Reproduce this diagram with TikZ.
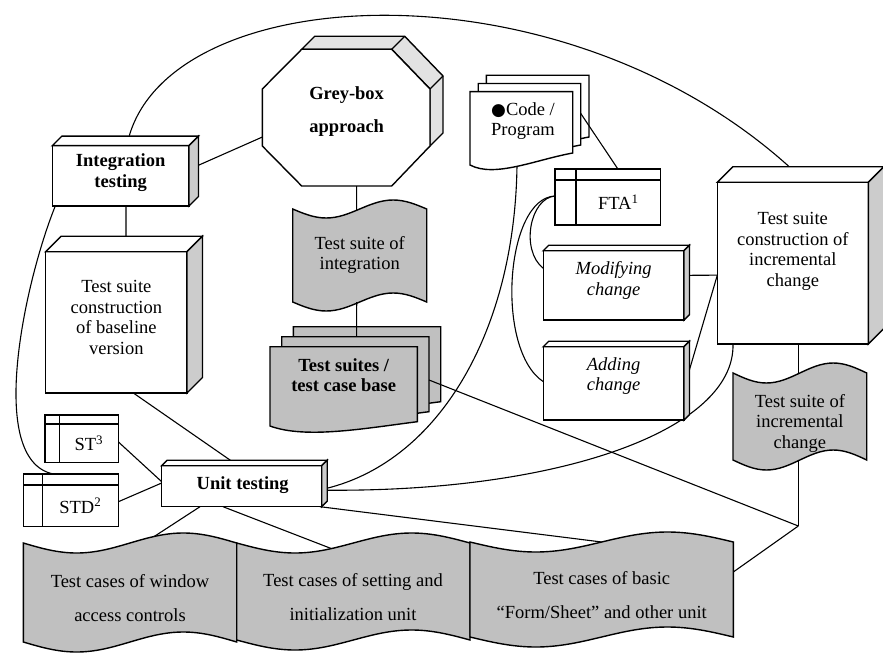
\documentclass[tikz,border=0pt]{standalone}
\usepackage{fontspec}
\setmainfont{Liberation Serif}
\newfontfamily\symfont{DejaVu Sans}
\usetikzlibrary{calc}
\pgfdeclarelayer{bg}
\pgfsetlayers{bg,main}

\definecolor{tapegray}{RGB}{192,192,192}
\definecolor{sidegray}{RGB}{204,204,204}
\definecolor{octgray}{RGB}{226,226,226}

\newcommand\lbl{\fontsize{18.5}{20.5}\selectfont}

\tikzset{
  outline/.style={draw=black, line width=1.4pt, line join=miter},
  conn/.style={draw=black, line width=1.1pt},
  frame/.style={rectangle, inner sep=0pt, outer sep=0pt, anchor=north west},
  txt/.style={align=center, inner sep=0pt, font=\lbl},
}

% top and right faces of a 3-D box drawn on a frame node
\newcommand\cubefaces[2]{%
  \draw[outline, fill=white] (#1.north west) -- ++(#2,-#2) -- ($(#1.north east)+(#2,-#2)$) -- (#1.north east) -- cycle;
  \draw[outline, fill=sidegray] (#1.north east) -- ($(#1.north east)+(#2,-#2)$) -- ($(#1.south east)+(#2,-#2)$) -- (#1.south east) -- cycle;}

% punched tape: x1, top, x2, bottom, wave amplitude
\newcommand\tapeshape[5]{%
  \draw[outline, fill=tapegray] (#1,#2) sin ({#1+(#3-#1)/4},{#2+#5}) cos ({#1+(#3-#1)/2},#2)
    sin ({#1+3*(#3-#1)/4},{#2-#5}) cos (#3,#2) -- (#3,#4)
    sin ({#1+3*(#3-#1)/4},{#4-#5}) cos ({#1+(#3-#1)/2},#4)
    sin ({#1+(#3-#1)/4},{#4+#5}) cos (#1,#4) -- cycle;}

% document sheet: x1, top, x2, bottom left, bottom right, fill
\newcommand\docshape[6]{%
  \draw[outline, fill=#6] (#1,#2) -- (#3,#2) -- (#3,#5)
    .. controls ({#1+0.63*(#3-#1)},{#5+7}) and ({#1+0.24*(#3-#1)},{#4+13}) .. (#1,#4) -- cycle;}

% internal storage box: node name, width of left strip, height of top strip
\newcommand\storebox[3]{%
  \draw[outline, fill=white] (#1.north west) rectangle (#1.south east);
  \draw[outline] ($(#1.north west)+(0,#3)$) -- ($(#1.north east)+(0,#3)$);
  \draw[outline] ($(#1.north west)+(#2,0)$) -- ($(#1.south west)+(#2,0)$);}

\begin{document}
\begin{tikzpicture}[x=1pt,y=-1pt]
\useasboundingbox (0,0) rectangle (883,655);

% ---------- frames of the shapes ----------
\node[frame, minimum width=136.7pt, minimum height=60.3pt]  (integ)    at (52.3,145.7) {};
\node[frame, minimum width=141.3pt, minimum height=141.3pt] (baseline) at (45.7,251.7) {};
\node[frame, minimum width=167.7pt, minimum height=136.7pt] (greybox)  at (262.3,49.3) {};
\node[frame, minimum width=102.7pt, minimum height=73.3pt]  (code)     at (470,91.7) {};
\node[frame, minimum width=105.7pt, minimum height=56pt]    (fta)      at (555,169) {};
\node[frame, minimum width=140.7pt, minimum height=69.3pt]  (modify)   at (543.3,250.7) {};
\node[frame, minimum width=140.7pt, minimum height=73.3pt]  (adding)   at (543.3,346.7) {};
\node[frame, minimum width=151pt,   minimum height=161.7pt] (incr)     at (717.3,182.3) {};
\node[frame, minimum width=134pt,   minimum height=93pt]    (suiteint) at (292.7,209) {};
\node[frame, minimum width=133.7pt, minimum height=87pt]    (suiteinc) at (733,373) {};
\node[frame, minimum width=147.3pt, minimum height=79.3pt]  (base)     at (270,346.7) {};
\node[frame, minimum width=73.3pt,  minimum height=47.7pt]  (st)       at (45,415) {};
\node[frame, minimum width=95pt,    minimum height=52.7pt]  (std)      at (23.3,474) {};
\node[frame, minimum width=160pt,   minimum height=41pt]    (unit)     at (161.7,465.7) {};
\node[frame, minimum width=213.4pt, minimum height=99pt]    (tcwin)    at (23.3,543) {};
\node[frame, minimum width=233.3pt, minimum height=97pt]    (tcset)    at (236.7,543) {};
\node[frame, minimum width=263.3pt, minimum height=95pt]    (tcbasic)  at (470,542) {};
\coordinate (j) at (798.3,526);

% ---------- connectors behind the shapes ----------
\begin{pgfonlayer}{bg}
\draw[conn] ($(integ.north west)+(77,-10)$) .. controls +(45.7,-155.7) and +(-229.3,-206.8) .. ($(incr.north west)+(72,-15.5)$);
\draw[conn] ($(integ.east)+(0,-6.4)$) -- ($(greybox.west)+(0,19.4)$);
\draw[conn] ($(integ.south)+(5.35,0)$) -- ($(baseline.north)+(9.65,0)$);
\draw[conn] ($(integ.south west)+(3,0)$) .. controls +(-30,74) and +(-68,-14) .. ($(std.north west)+(30,0)$);
\draw[conn] ($(baseline.south)+(17,0)$) -- ($(unit.north)+(-3.5,0)$);
\draw[conn] ($(st.east)+(0,3)$) -- ($(unit.west)+(0,-4.5)$);
\draw[conn] ($(std.east)+(0,1.4)$) -- ($(unit.west)+(0,-3.2)$);
\draw[conn] ($(greybox.south)+(10.5,0)$) -- ($(suiteint.center)+(-3,0)$);
\draw[conn] ($(code.south)+(-4.35,0)$) .. controls +(-2,165) and +(112.8,-28.2) .. ($(unit.east)+(5.5,2)$);
\draw[conn] ($(unit.east)+(5.5,4)$) .. controls +(232.8,1.8) and +(2,86) .. ($(incr.south west)+(15.7,0)$);
\draw[conn] ($(fta.west)+(0,-1)$) .. controls +(-25,2) and +(-23.3,-18.35) .. ($(modify.west)+(0,-17)$);
\draw[conn] ($(fta.west)+(0,-1)$) .. controls +(-50,2) and +(-48.3,-31.65) .. ($(adding.west)+(0,-1.7)$);
\draw[conn] ($(modify.east)+(0,-10)$) -- ($(incr.west)+(0,12)$);
\draw[conn] ($(adding.east)+(0,5)$) -- ($(incr.west)+(0,12)$);
\draw[conn] ($(incr.south)+(5.5,0)$) -- (j);
\draw[conn] (j) -- ($(tcbasic.east)+(0,-17.5)$);
\draw[conn] ($(unit.south)+(-41.7,0)$) -- ($(tcwin.north)+(14.2,0)$);
\draw[conn] ($(unit.south)+(-18.7,0)$) -- ($(tcset.north)+(7.6,17)$);
\draw[conn] ($(unit.south east)+(-1.7,0)$) -- (tcbasic.north);
\end{pgfonlayer}

% ---------- Integration testing ----------
\draw[outline, fill=white] (integ.north west) rectangle (integ.south east);
\cubefaces{integ}{9.5}
\node[txt, font=\lbl\bfseries] (integT) at ($(integ.center)+(0,-3)$) {Integration\\testing};

% ---------- baseline suite ----------
\draw[outline, fill=white] (baseline.north west) rectangle (baseline.south east);
\cubefaces{baseline}{15.5}
\node[txt] (baselineT) at ($(baseline.center)+(0,-5)$) {Test suite\\construction\\of baseline\\version};

% ---------- Grey-box octagon ----------
\begin{scope}[shift={(greybox.north west)}]
  \draw[outline, fill=octgray] (39.4,0) -- (52.4,-13) -- (142.4,-13) -- (180.7,26.7) -- (180.7,83.7)
    -- (167.7,96.7) -- (167.7,39.7) -- (129.4,0) -- cycle;
  \draw[outline] (129.4,0) -- (142.4,-13) (167.7,39.7) -- (180.7,26.7);
  \draw[outline, fill=white] (39.4,0) -- (129.4,0) -- (167.7,39.7) -- (167.7,96.7) -- (129.4,136.7)
    -- (39.4,136.7) -- (0,96.7) -- (0,39.7) -- cycle;
\end{scope}
\node[txt, font=\fontsize{18.5}{33}\selectfont\bfseries] (greyboxT) at ($(greybox.center)+(0.5,-6)$) {Grey-box\\approach};

% ---------- Code / Program ----------
\docshape{486.3}{75.3}{589}{149}{137}{white}
\docshape{478.2}{83.5}{580.7}{157}{145}{white}
\docshape{470}{91.7}{572.7}{165}{153}{white}
\node[txt] (codeT) at (523,121) {{\symfont\fontsize{17}{20}\selectfont ●}Code /\\Program};
\draw[conn] ($(code.east)+(8,-15)$) -- ($(fta.north)+(10,0)$);

% ---------- FTA ----------
\storebox{fta}{21}{11}
\node[txt] (ftaT) at ($(fta.center)+(10.5,5.5)$) {FTA\textsuperscript{1}};

% ---------- change boxes ----------
\draw[outline, fill=white] (modify.north west) rectangle (modify.south east);
\cubefaces{modify}{5.5}
\node[txt, font=\lbl\itshape] (modifyT) at ($(modify.center)+(0,-5)$) {Modifying\\change};
\draw[outline, fill=white] (adding.north west) rectangle (adding.south east);
\cubefaces{adding}{5.5}
\node[txt, font=\lbl\itshape] (addingT) at ($(adding.center)+(0,-7.5)$) {Adding\\change};

% ---------- incremental suite ----------
\draw[outline, fill=white] (incr.north west) rectangle (incr.south east);
\cubefaces{incr}{15.5}
\node[txt] (incrT) at ($(incr.center)+(0,-12)$) {Test suite\\construction of\\incremental\\change};

% ---------- tapes ----------
\tapeshape{292.7}{209}{426.7}{302}{9}
\node[txt] (suiteintT) at ($(suiteint.center)+(0,-0.5)$) {Test suite of\\integration};
\tapeshape{733}{373}{866.7}{460}{10}
\node[txt] (suiteincT) at ($(suiteinc.center)+(0,6.5)$) {Test suite of\\incremental\\change};

% ---------- Test suites / test case base ----------
\docshape{293.3}{326.7}{440.7}{406}{401.7}{tapegray}
\draw[conn] ($(suiteint.south)+(-3,0)$) -- ($(base.north)+(13,-10)$);
\docshape{281.7}{336.7}{429}{416}{411.7}{tapegray}
\docshape{270}{346.7}{417.3}{426}{421.7}{tapegray}
\node[txt, font=\lbl\bfseries] (baseT) at ($(base.center)+(0,-11)$) {Test suites /\\test case base};
\draw[conn] ($(base.east)+(11.7,-6.35)$) -- (j);

% ---------- ST and STD ----------
\storebox{st}{14.3}{9}
\node[txt] (stT) at ($(st.center)+(7.2,4.5)$) {ST\textsuperscript{3}};
\storebox{std}{19}{11}
\node[txt] (stdT) at ($(std.center)+(9.5,5.5)$) {STD\textsuperscript{2}};

% ---------- Unit testing ----------
\draw[outline, fill=white] (unit.north west) rectangle (unit.south east);
\cubefaces{unit}{5.5}
\node[txt, font=\lbl\bfseries] (unitT) at ($(unit.center)+(1,-1)$) {Unit testing};

% ---------- test case tapes ----------
\tapeshape{23.3}{543}{236.7}{642}{10}
\tapeshape{236.7}{543}{470}{640}{10}
\tapeshape{470}{542}{733.3}{637}{10}
\node[txt, font=\fontsize{18.5}{34}\selectfont] (tcwinT)   at (130,598)   {Test cases of window\\access controls};
\node[txt, font=\fontsize{18.5}{34}\selectfont] (tcsetT)   at (353,597.5) {Test cases of setting and\\initialization unit};
\node[txt, font=\fontsize{18.5}{34}\selectfont] (tcbasicT) at (601.7,595.5) {Test cases of basic\\“Form/Sheet” and other unit};
\end{tikzpicture}
\end{document}
